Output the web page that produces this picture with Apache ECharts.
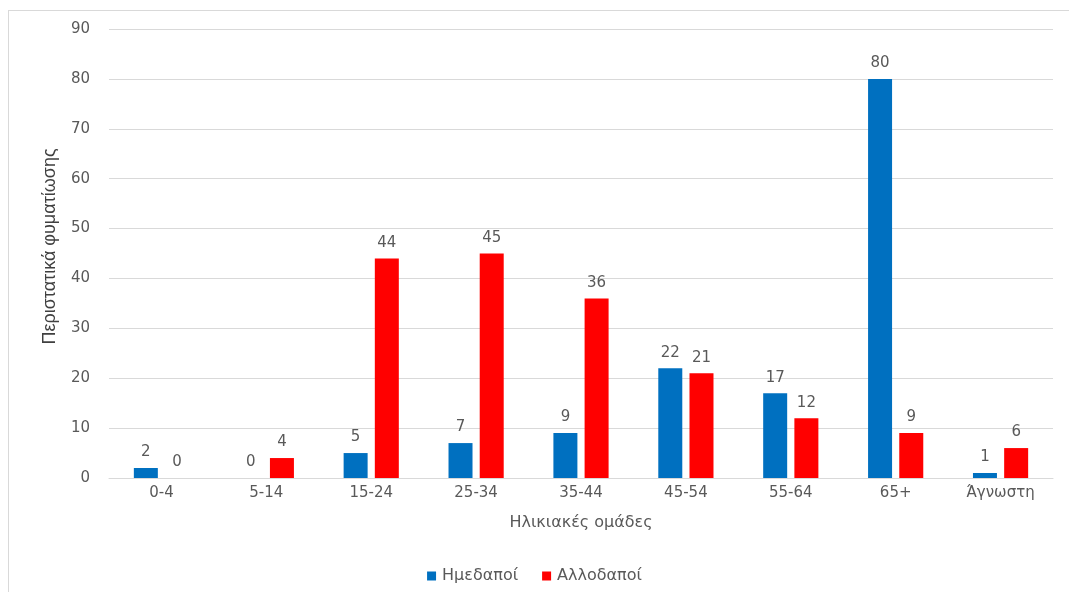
<!DOCTYPE html>
<html>
<head>
<meta charset="utf-8">
<script src="https://cdn.jsdelivr.net/npm/echarts@6/dist/echarts.min.js"></script>
<style>
  html, body { margin: 0; padding: 0; background: #fff; }
  #frame { position: absolute; left: 8px; top: 10px; width: 1070px; height: 600px; border: 1px solid #d9d9d9; box-sizing: border-box; }
  #chart { width: 1069px; height: 592px; position: absolute; left: 0; top: 0; }
</style>
</head>
<body>
<div id="frame"></div>
<div id="chart"></div>
<script>
// Age groups and cases per group
const categories = ['0-4', '5-14', '15-24', '25-34', '35-44', '45-54', '55-64', '65+', 'Άγνωστη'];
const natives = [2, 0, 5, 7, 9, 22, 17, 80, 1];
const foreigners = [0, 4, 44, 45, 36, 21, 12, 9, 6];
const yTicks = { min: 0, max: 90, interval: 10 };

const textColor = '#595959';
const fontFamily = 'DejaVu Sans, Verdana, sans-serif';

const chart = echarts.init(document.getElementById('chart'), null, { renderer: 'canvas' });

const labelStyle = {
  show: true,
  position: 'top',
  distance: 8,
  color: textColor,
  fontSize: 15,
  fontFamily: fontFamily
};

chart.setOption({
  animation: false,
  textStyle: { fontFamily: fontFamily },
  grid: { left: 109, right: 16, top: 29, bottom: 114, containLabel: false },
  legend: {
    top: 563,
    left: 'center',
    itemWidth: 9,
    itemHeight: 9,
    itemGap: 24,
    icon: 'rect',
    textStyle: { color: textColor, fontSize: 16, fontFamily: fontFamily, padding: [0, 0, 0, 1] },
    data: ['Ημεδαποί', 'Αλλοδαποί']
  },
  xAxis: {
    type: 'category',
    data: categories,
    name: 'Ηλικιακές ομάδες',
    nameLocation: 'middle',
    nameGap: 37,
    nameTextStyle: { color: textColor, fontSize: 16, fontFamily: fontFamily },
    axisLine: { lineStyle: { color: '#d9d9d9' } },
    axisTick: { show: false },
    axisLabel: { color: textColor, fontSize: 15, margin: 8, fontFamily: fontFamily }
  },
  yAxis: {
    type: 'value',
    min: yTicks.min,
    max: yTicks.max,
    interval: yTicks.interval,
    name: 'Περιστατικά φυματίωσης',
    nameLocation: 'middle',
    nameGap: 50,
    nameRotate: 90,
    nameTextStyle: {
      color: '#404040',
      fontSize: 18,
      fontFamily: 'Liberation Sans, Arial, sans-serif',
      padding: [0, 0, 0, 14]
    },
    axisLine: { show: false },
    axisTick: { show: false },
    axisLabel: { color: textColor, fontSize: 15, margin: 19, fontFamily: fontFamily },
    splitLine: { lineStyle: { color: '#d9d9d9' } }
  },
  series: [
    {
      name: 'Ημεδαποί',
      type: 'bar',
      data: natives,
      barWidth: 24,
      barGap: '30%',
      itemStyle: { color: '#0070C0' },
      label: labelStyle
    },
    {
      name: 'Αλλοδαποί',
      type: 'bar',
      data: foreigners,
      barWidth: 24,
      barGap: '30%',
      itemStyle: { color: '#FF0000' },
      label: labelStyle
    }
  ]
});
</script>
</body>
</html>
